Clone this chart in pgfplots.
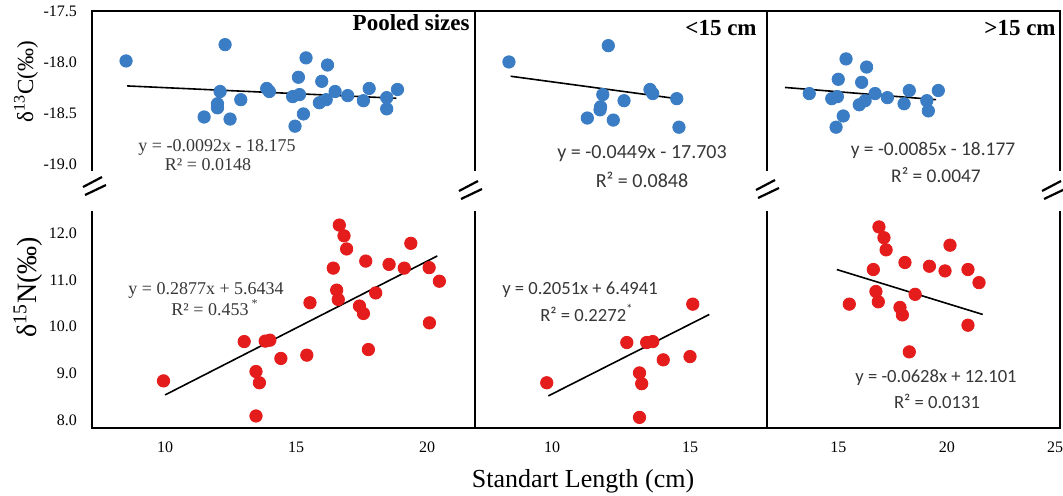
\documentclass[border=0pt]{standalone}
\usepackage{pgfplots}
\pgfplotsset{compat=1.18}
\usepackage{fontspec}
\setmainfont{Liberation Serif}
\newfontfamily\calibri{Carlito}
\definecolor{ptblue}{RGB}{59,125,196}
\definecolor{ptred}{RGB}{228,28,28}
\definecolor{eqgray}{RGB}{55,55,55}
\tikzset{frame/.style={line width=1.2pt, line join=miter, line cap=rect}}
\pgfplotsset{
  panel/.style={scale only axis, axis line style={draw=none}, major tick length=0pt,
    tick style={draw=none}, clip=false,
    ticklabel style={font=\fontsize{8}{9}\selectfont},
    /pgf/number format/assume math mode=true,
    yticklabel style={xshift=-4pt,/pgf/number format/.cd,fixed,fixed zerofill,precision=1},
    xticklabel style={yshift=-3.5pt}},
  toppanel/.style={panel, anchor=south west, height=79.5pt, ymin=-19.06, ymax=-17.5, xtick=\empty, ytick=\empty},
  botpanel/.style={panel, anchor=south west, height=108pt, ymin=7.833, ymax=12.449, ytick=\empty},
  bluemk/.style={only marks, mark=*, mark size=3.1pt, color=ptblue},
  redmk/.style={only marks, mark=*, mark size=3.1pt, color=ptred},
  fitline/.style={black, line width=0.8pt},
}
\begin{document}
\begin{tikzpicture}
\useasboundingbox (0,0) rectangle (531.5pt,247.5pt);
% ---------- Pooled sizes, top
\begin{axis}[toppanel, at={(46pt,162.5pt)}, width=191.5pt, xmin=7.21, xmax=21.83,
  ytick={-19,-18.5,-18,-17.5}]
\addplot[bluemk] coordinates {(8.51,-17.99) (12.29,-17.83) (11.49,-18.54) (12.10,-18.29) (12.00,-18.41) (12.00,-18.45) (12.48,-18.56) (12.89,-18.37) (13.88,-18.26) (13.98,-18.29) (14.87,-18.34) (15.09,-18.15) (15.13,-18.32) (15.38,-17.96) (14.96,-18.63) (15.28,-18.51) (15.98,-18.19) (16.20,-18.03) (15.89,-18.40) (16.15,-18.37) (16.49,-18.29) (16.97,-18.33) (17.57,-18.38) (17.79,-18.26) (18.46,-18.35) (18.46,-18.46) (18.87,-18.27)};
\addplot[fitline] coordinates {(8.55,-18.235) (18.83,-18.356)};
\draw[frame] (rel axis cs:0,0) -- (rel axis cs:0,1) -- (rel axis cs:1,1) -- (rel axis cs:1,0);
\end{axis}
% ---------- <15 cm, top
\begin{axis}[toppanel, at={(237.5pt,162.5pt)}, width=146pt, xmin=7.21, xmax=17.79]
\addplot[bluemk] coordinates {(8.44,-18.00) (12.04,-17.84) (11.84,-18.32) (11.76,-18.44) (11.74,-18.47) (11.28,-18.55) (12.22,-18.57) (12.61,-18.38) (13.55,-18.27) (13.65,-18.31) (14.52,-18.36) (14.60,-18.64)};
\addplot[fitline] coordinates {(8.50,-18.14) (14.52,-18.36)};
\draw[frame] (rel axis cs:0,1) -- (rel axis cs:1,1) -- (rel axis cs:1,0);
\end{axis}
% ---------- >15 cm, top
\begin{axis}[toppanel, at={(383.5pt,162.5pt)}, width=146.5pt, xmin=11.7, xmax=25.23]
\addplot[bluemk] coordinates {(13.65,-18.31) (14.69,-18.36) (14.95,-18.34) (14.99,-18.17) (15.35,-17.97) (15.22,-18.53) (14.89,-18.64) (16.30,-18.05) (16.07,-18.20) (15.96,-18.42) (16.23,-18.38) (16.69,-18.31) (17.26,-18.35) (18.03,-18.41) (18.27,-18.28) (19.08,-18.38) (19.15,-18.48) (19.61,-18.28)};
\addplot[fitline] coordinates {(12.53,-18.25) (19.51,-18.37)};
\draw[frame] (rel axis cs:0,1) -- (rel axis cs:1,1) -- (rel axis cs:1,0);
\end{axis}
% ---------- Pooled sizes, bottom
\begin{axis}[botpanel, at={(46pt,33.5pt)}, width=191.5pt, xmin=7.21, xmax=21.83,
  xtick={10,15,20}, ytick={8,9,10,11,12}]
\addplot[redmk] coordinates {(9.94,8.84) (13.02,9.68) (13.47,9.04) (13.60,8.80) (13.47,8.09) (13.82,9.69) (14.00,9.71) (14.42,9.32) (15.41,9.39) (15.53,10.51) (16.42,11.25) (16.55,10.78) (16.61,10.58) (16.65,12.17) (16.83,11.94) (16.93,11.66) (17.42,10.44) (17.57,10.28) (17.66,11.40) (17.76,9.51) (18.04,10.72) (18.55,11.33) (19.13,11.25) (19.38,11.78) (20.08,11.26) (20.09,10.08) (20.47,10.97)};
\addplot[fitline] coordinates {(10.0,8.54) (20.39,11.51)};
\draw[frame] (rel axis cs:0,1) -- (rel axis cs:0,0) -- (rel axis cs:1,0) -- (rel axis cs:1,1);
\end{axis}
% ---------- <15 cm, bottom
\begin{axis}[botpanel, at={(237.5pt,33.5pt)}, width=146pt, xmin=7.21, xmax=17.79,
  xtick={10,15}]
\addplot[redmk] coordinates {(9.81,8.80) (12.71,9.66) (13.43,9.66) (13.65,9.68) (13.17,9.01) (13.25,8.78) (13.17,8.06) (14.03,9.29) (15.00,9.36) (15.10,10.48)};
\addplot[fitline] coordinates {(9.87,8.52) (15.70,10.26)};
\draw[frame] (rel axis cs:0,0) -- (rel axis cs:1,0) -- (rel axis cs:1,1);
\end{axis}
% ---------- >15 cm, bottom
\begin{axis}[botpanel, at={(383.5pt,33.5pt)}, width=146.5pt, xmin=11.7, xmax=25.23,
  xtick={15,20,25}]
\addplot[redmk] coordinates {(15.50,10.48) (16.61,11.22) (16.73,10.75) (16.84,10.53) (16.87,12.13) (17.10,11.90) (17.20,11.64) (17.84,10.41) (17.95,10.25) (18.07,11.37) (18.27,9.46) (18.54,10.69) (19.20,11.29) (19.92,11.19) (20.15,11.74) (20.98,11.22) (20.98,10.03) (21.49,10.94)};
\addplot[fitline] coordinates {(14.92,11.22) (21.66,10.26)};
\draw[frame] (rel axis cs:0,0) -- (rel axis cs:1,0) -- (rel axis cs:1,1);
\end{axis}
% ---------- break marks
\foreach \cx/\cy in {47/154.5, 235/152.5, 383.5/153, 526.5/152.5}{
  \draw[line width=1.1pt] (\cx pt-5.5pt,\cy pt-0.5pt) -- (\cx pt+4pt,\cy pt+4.5pt);
  \draw[line width=1.1pt] (\cx pt-4.5pt,\cy pt-4.5pt) -- (\cx pt+6pt,\cy pt+0.5pt);
}
% ---------- titles
\node[anchor=east, font=\bfseries\fontsize{11.5}{13}\selectfont, inner sep=0pt] at (235pt,236pt) {Pooled sizes};
\node[anchor=east, font=\bfseries\fontsize{11.5}{13}\selectfont, inner sep=0pt] at (378.5pt,233.5pt) {<15 cm};
\node[anchor=east, font=\bfseries\fontsize{11.5}{13}\selectfont, inner sep=0pt] at (528pt,233.5pt) {>15 cm};
% ---------- equations
\node[eqgray, font=\fontsize{9}{10}\selectfont, inner sep=0pt] at (108.5pt,174pt) {y = -0.0092x - 18.175};
\node[eqgray, font=\fontsize{9}{10}\selectfont, inner sep=0pt] at (104pt,165pt) {R² = 0.0148};
\node[eqgray, font=\fontsize{9}{10}\selectfont, inner sep=0pt] at (103pt,102.5pt) {y = 0.2877x + 5.6434};
\node[eqgray, font=\fontsize{9}{10}\selectfont, inner sep=0pt] at (107.5pt,93.5pt) {R² = 0.453\,\textsuperscript{*}};
\node[eqgray, font=\calibri\fontsize{10}{11}\selectfont, inner sep=0pt] at (321pt,170.5pt) {y = -0.0449x - 17.703};
\node[eqgray, font=\calibri\fontsize{10}{11}\selectfont, inner sep=0pt] at (321pt,157.5pt) {R² = 0.0848};
\node[eqgray, font=\calibri\fontsize{9.3}{10}\selectfont, inner sep=0pt] at (290pt,102.5pt) {y = 0.2051x + 6.4941};
\node[eqgray, font=\calibri\fontsize{9.3}{10}\selectfont, inner sep=0pt] at (293.5pt,91pt) {R² = 0.2272\textsuperscript{*}};
\node[eqgray, font=\calibri\fontsize{9.7}{11}\selectfont, inner sep=0pt] at (466.5pt,172.5pt) {y = -0.0085x - 18.177};
\node[eqgray, font=\calibri\fontsize{9.7}{11}\selectfont, inner sep=0pt] at (468pt,160pt) {R² = 0.0047};
\node[eqgray, font=\calibri\fontsize{9.3}{10}\selectfont, inner sep=0pt] at (468pt,58.5pt) {y = -0.0628x + 12.101};
\node[eqgray, font=\calibri\fontsize{9.3}{10}\selectfont, inner sep=0pt] at (468.5pt,47pt) {R² = 0.0131};
% ---------- axis titles
\node[rotate=90, font=\fontsize{11.5}{13}\selectfont, inner sep=0pt] at (13pt,206.5pt) {δ\textsuperscript{13}C(‰)};
\node[rotate=90, font=\fontsize{14}{15}\selectfont, inner sep=0pt] at (14pt,104pt) {δ\textsuperscript{15}N(‰)};
\node[font=\fontsize{13}{15}\selectfont, inner sep=0pt] at (291.5pt,7pt) {Standart Length (cm)};
\end{tikzpicture}
\end{document}
